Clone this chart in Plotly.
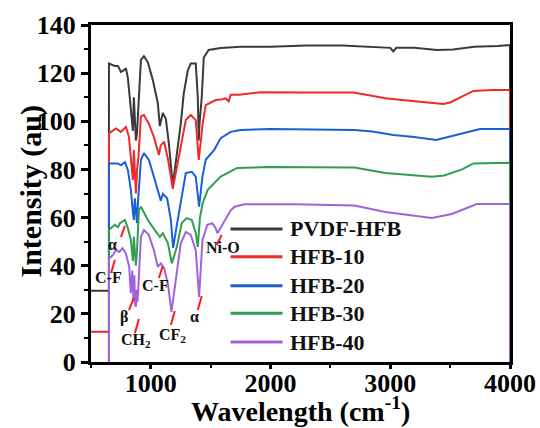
import plotly.graph_objects as go

# ---------------- data ----------------
series_names = ["PVDF-HFB", "HFB-10", "HFB-20", "HFB-30", "HFB-40"]
series_colors = ["#3a3a3a", "#ee2a2a", "#1a5fd8", "#2e9e50", "#a262dc"]

wn_pvdf = [480, 650, 650, 700, 725, 750, 770, 792, 808, 833, 842, 850, 858, 866, 875, 884, 892, 905, 917, 942, 975,
           1017, 1058, 1075, 1100, 1125, 1150, 1183, 1208, 1250, 1275, 1308, 1333, 1375, 1392, 1400, 1408, 1425, 1442,
           1483, 1583, 1750, 2000, 2300, 2600, 2900, 3000, 3025, 3050, 3200, 3390, 3525, 3700, 3900, 4000, 4000]
y_pvdf = [29.6, 29.6, 124, 123, 123, 120.5, 121, 122, 118, 106, 100, 96, 110, 100, 92, 95, 103, 118, 125.5, 127, 124.5,
          117, 107.6, 98, 103.5, 101, 91, 73.5, 82.5, 99, 111.6, 121, 124, 124, 110, 92, 100, 110, 126.5,
          129.6, 130.4, 131, 131, 131.5, 131.5, 130.8, 130.5, 129, 130.5, 130.5, 129.6, 129.8, 131, 131.3, 131.7, -10]

wn_10 = [480, 650, 650, 708, 750, 792, 817, 833, 850, 858, 866, 875, 885, 896, 917, 942, 983, 1025, 1067, 1083, 1111,
         1144, 1183, 1208, 1250, 1292, 1333, 1375, 1400, 1433, 1458, 1542, 1583, 1625, 1650, 1667, 1736, 1917, 2300,
         2692, 2800, 2958, 3100, 3250, 3442, 3500, 3583, 3694, 3850, 4000, 4000]
y_10 = [12.6, 12.6, 95, 97, 95.6, 97.7, 93.5, 85, 75.6, 88, 78, 70, 80, 85, 102, 102.6, 99, 93.5, 86, 90, 91.5,
        84, 72, 78.5, 89, 100.5, 102.6, 100.5, 84, 99, 106.7, 108.8, 109, 109.5, 108.3, 111, 111, 112.1, 112,
        112, 111, 109.6, 108.8, 108, 107.2, 107.8, 110, 112.6, 113, 113, -10]

wn_20 = [480, 650, 650, 725, 750, 783, 808, 833, 850, 858, 866, 875, 884, 892, 917, 942, 983, 1025, 1067, 1083, 1100,
         1136, 1167, 1186, 1214, 1250, 1292, 1342, 1375, 1403, 1431, 1458, 1528, 1583, 1667, 1750, 2000, 2700, 2850,
         3025, 3200, 3383, 3525, 3750, 4000, 4000]
y_20 = [-10, -10, 82.5, 82.5, 81.7, 83, 79.8, 71.5, 62, 59, 68, 62, 57.7, 66, 84, 86.8, 84, 77, 70, 67, 69.8,
        68, 59, 47.4, 56, 66, 78.5, 79, 77, 64.5, 77, 84, 88, 93, 95.6, 96.4, 96.8, 96.4, 95.8,
        94.3, 93.5, 92.2, 94, 96.8, 96.8, -10]

wn_30 = [480, 650, 650, 700, 725, 742, 783, 800, 808, 833, 850, 858, 866, 875, 884, 900, 917, 975, 1033, 1075, 1100,
         1142, 1175, 1217, 1258, 1300, 1342, 1375, 1392, 1410, 1433, 1475, 1583, 1722, 1972, 2700, 2958, 3150, 3347,
         3450, 3600, 3694, 3850, 4000, 4000]
y_30 = [-10, -10, 55, 57, 56, 57.7, 59, 57, 55.6, 50.7, 42, 52, 44, 40, 46, 63, 64.5, 59, 54.8, 52, 53.5,
        49.4, 41, 47.8, 57.7, 59.8, 59, 53.5, 47.8, 60, 66, 71.5, 77, 80.6, 81, 80.8, 78.5, 77.8, 77,
        77.5, 80, 82.5, 82.8, 82.8, -10]

wn_40 = [480, 650, 650, 683, 708, 736, 764, 792, 819, 833, 845, 855, 862, 868, 875, 882, 889, 896, 917, 942, 983,
         1025, 1058, 1083, 1111, 1144, 1172, 1208, 1250, 1292, 1333, 1375, 1403, 1431, 1472, 1514, 1542, 1556, 1597,
         1639, 1667, 1700, 1778, 2200, 2700, 2958, 3150, 3347, 3514, 3722, 3850, 4000, 4000]
y_40 = [-10, -10, 43, 44.4, 46.5, 45.7, 47.3, 45, 39.5, 28.6, 38, 25, 36, 24, 23, 30, 25, 32.7, 52, 54.8, 52.8,
        46.5, 39.5, 41, 39, 32, 20.8, 34, 49.4, 54, 52.8, 46.5, 27, 50.7, 57, 57.7, 55.6, 53.5, 57,
        60.5, 63, 64.5, 65.5, 65.5, 65, 62.3, 61, 59.8, 61.5, 65.6, 65.6, 65.6, -10]

series_x = [wn_pvdf, wn_10, wn_20, wn_30, wn_40]
series_y = [y_pvdf, y_10, y_20, y_30, y_40]

# peak labels: text, label position, pointer start, pointer end
label_text = ["α", "C-F", "β", "CH<sub>2</sub>", "C-F", "CF<sub>2</sub>", "α", "Ni-O"]
label_x = [683, 650, 775, 877, 1042, 1177, 1367, 1600]
label_y = [49, 35.3, 18.7, 9.1, 31.6, 11.2, 19.1, 47.4]
ptr_x0 = [750, 667, 817, 867, 1067, 1167, 1392, 1550]
ptr_y0 = [51.9, 37, 21.6, 12, 34.9, 15.4, 21.6, 48.6]
ptr_x1 = [783, 700, 858, 900, 1100, 1200, 1425, 1592]
ptr_y1 = [56.5, 42.4, 26.6, 17.9, 39.9, 21.2, 27.4, 52.8]

x_title = "Wavelength (cm<sup>-1</sup>)"
y_title = "Intensity (au)"

x_range = [500, 4000]
y_range = [0, 140]

SERIF = "Liberation Serif"

fig = go.Figure()
for name, color, xs, ys in zip(series_names, series_colors, series_x, series_y):
    fig.add_trace(go.Scatter(x=xs, y=ys, mode="lines", name=name,
                             line=dict(color=color, width=2), showlegend=False))

# peak annotations
for t, lx, ly, x0, y0, x1, y1 in zip(label_text, label_x, label_y, ptr_x0, ptr_y0, ptr_x1, ptr_y1):
    fig.add_shape(type="line", xref="x", yref="y", x0=x0, y0=y0, x1=x1, y1=y1,
                  line=dict(color="#ff1a1a", width=2))
    fig.add_annotation(x=lx, y=ly, xref="x", yref="y", text=t, showarrow=False,
                       font=dict(family=SERIF, size=16, color="#111111", weight="bold"))

# custom legend (long line samples)
leg_y = [0.395, 0.312, 0.226, 0.145, 0.059]
for name, color, ly in zip(series_names, series_colors, leg_y):
    fig.add_shape(type="line", xref="paper", yref="paper", x0=0.333, x1=0.457, y0=ly, y1=ly,
                  line=dict(color=color, width=3))
    fig.add_annotation(x=0.469, y=ly, xref="paper", yref="paper", text=name, showarrow=False,
                       xanchor="left", yanchor="middle",
                       font=dict(family=SERIF, size=22, color="#111111", weight="bold"))

# axis titles
fig.add_annotation(x=0.5, y=0, xref="paper", yref="paper", text=x_title, showarrow=False,
                   xanchor="center", yanchor="top", yshift=-28,
                   font=dict(family=SERIF, size=28, color="black", weight="bold"))
fig.add_annotation(x=0, y=0.5, xref="paper", yref="paper", text=y_title, showarrow=False,
                   xanchor="center", yanchor="middle", xshift=-61, yshift=2, textangle=-90,
                   font=dict(family=SERIF, size=30, color="black", weight="bold"))

axis_common = dict(showline=True, linecolor="black", linewidth=3, mirror=True,
                   ticks="outside", tickwidth=3, tickcolor="black",
                   showgrid=False, zeroline=False, layer="below traces", automargin=False,
                   tickfont=dict(family=SERIF, size=26, color="black", weight="bold"))

fig.update_xaxes(range=x_range, dtick=1000, tick0=0, ticklen=4, ticklabelstandoff=-8,
                 minor=dict(ticks="outside", ticklen=3, tickwidth=2, dtick=500, tickcolor="black"),
                 **axis_common)
fig.update_yaxes(range=y_range, dtick=20, ticklen=7,
                 minor=dict(ticks="outside", ticklen=4, tickwidth=2, dtick=10, tickcolor="black"),
                 **axis_common)

fig.update_layout(width=540, height=428, margin=dict(l=91, r=30, t=25, b=66),
                  plot_bgcolor="white", paper_bgcolor="white")

fig.write_html("out.html")
